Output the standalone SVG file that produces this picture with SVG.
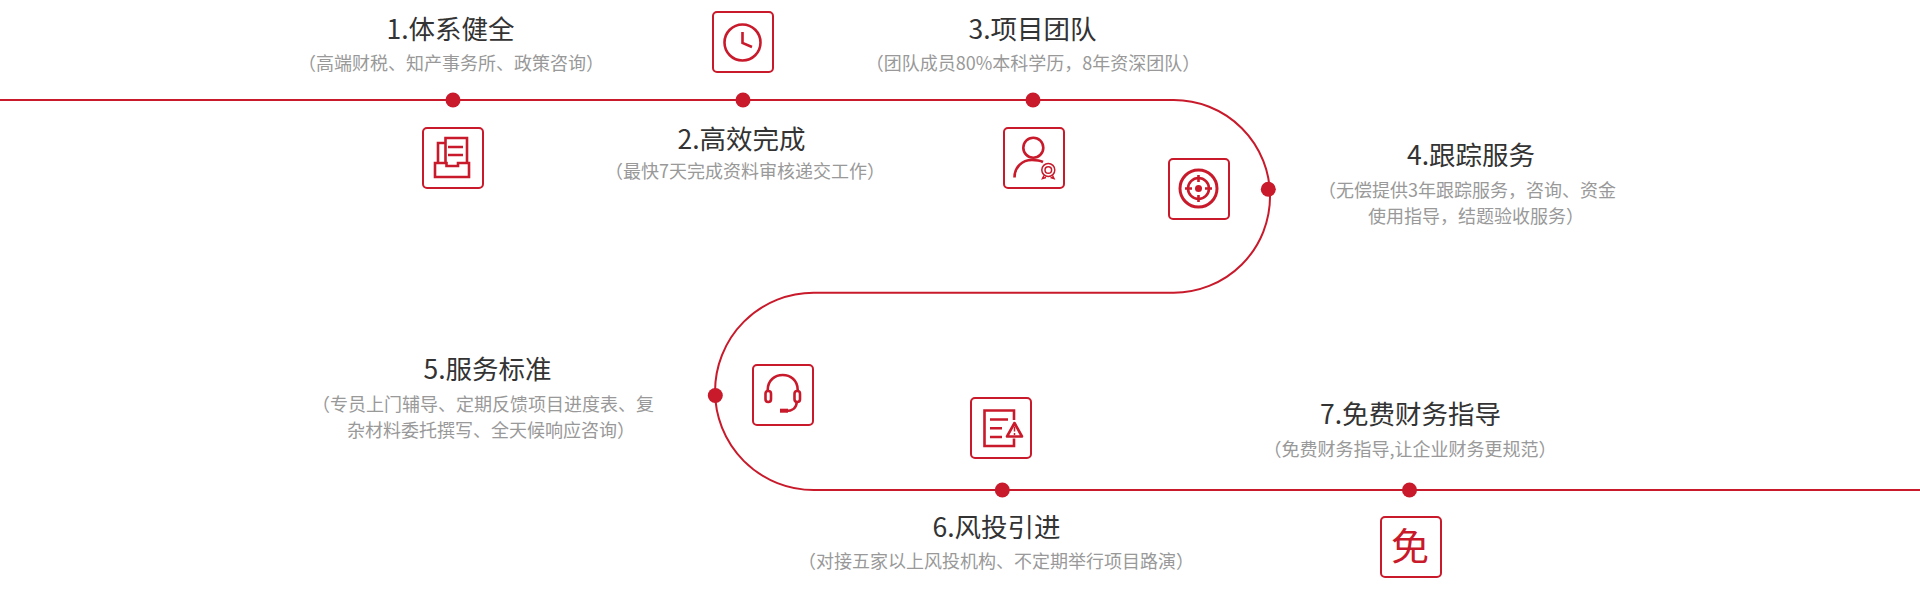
<svg xmlns="http://www.w3.org/2000/svg" width="1920" height="613" viewBox="0 0 1920 613">
<style>
.t{font-family:"Noto Sans CJK SC","Noto Sans",sans-serif;font-size:26.500px;fill:#333;text-anchor:middle}
.s{font-family:"Noto Sans CJK SC","Noto Sans",sans-serif;font-size:18px;fill:#999;text-anchor:middle}
.b{fill:#fff;stroke:#c81a2b;stroke-width:2}
.i{fill:none;stroke:#c81a2b;stroke-width:2.600}
.th{fill:none;stroke:#c81a2b;stroke-width:1.500}
.d{fill:#c81a2b}
</style>
<rect width="1920" height="613" fill="#fff"/>
<g id="connectors">
<path d="M0 100H1173.700A96.350 96.350 0 0 1 1173.700 292.700H813.700A98.650 98.650 0 0 0 813.700 490H1920" fill="none" stroke="#c81a2b" stroke-width="2"/>
<circle class="d" cx="453" cy="100" r="7.500"/><circle class="d" cx="743" cy="100" r="7.500"/><circle class="d" cx="1033" cy="100" r="7.500"/><circle class="d" cx="1268.300" cy="189.300" r="7.500"/><circle class="d" cx="715.300" cy="395.500" r="7.500"/><circle class="d" cx="1002.300" cy="490" r="7.500"/><circle class="d" cx="1409.500" cy="490" r="7.500"/>
</g>
<g id="node1">
<text class="t" x="450.500" y="39">1.体系健全</text><text class="s" x="451" y="69.500">（高端财税、知产事务所、政策咨询）</text>
<rect class="b" x="423" y="128" width="60" height="60" rx="4"/>
<path class="i" d="M445.500 163V138H467V163M445.500 143H438V163M448 147H463M448 155H463M435 177V163H446.500V166H458V163H469V177Z"/>
</g>
<g id="node2">
<text class="t" x="741.500" y="149">2.高效完成</text><text class="s" x="745" y="178">（最快7天完成资料审核递交工作）</text>
<rect class="b" x="713" y="12" width="60" height="60" rx="4"/>
<circle class="i" cx="742.500" cy="42.500" r="18"/><path class="i" d="M742.500 32V43L752 47"/>
</g>
<g id="node3">
<text class="t" x="1032.500" y="39">3.项目团队</text><text class="s" x="1033" y="69.500">（团队成员80%本科学历，8年资深团队）</text>
<rect class="b" x="1004" y="128" width="60" height="60" rx="4"/>
<circle class="i" cx="1033.300" cy="147.700" r="10"/><path class="i" d="M1014.500 177.500C1014.500 167 1022 160 1032 160C1036 160 1040 160.500 1043 162"/>
<circle class="th" cx="1048.300" cy="170" r="6.500"/><circle class="th" cx="1048.300" cy="170" r="3.300"/><path class="th" d="M1044 175.500L1042.500 178.500L1046 177.500M1052.500 175.500L1054 178.500L1050.500 177.500"/>
</g>
<g id="node4">
<text class="t" x="1471" y="165">4.跟踪服务</text><text class="s" x="1467" y="196.500">（无偿提供3年跟踪服务，咨询、资金</text><text class="s" x="1476" y="223">使用指导，结题验收服务）</text>
<rect class="b" x="1169" y="159" width="60" height="60" rx="4"/>
<circle cx="1198.500" cy="188.500" r="18.500" fill="none" stroke="#c81a2b" stroke-width="3"/><circle class="i" cx="1198.500" cy="188.500" r="10.500"/><circle class="d" cx="1198.500" cy="188.500" r="3.500"/><path class="i" d="M1198.500 175V182M1198.500 195V202M1185 188.500H1192M1205 188.500H1212"/>
</g>
<g id="node5">
<text class="t" x="487.500" y="379">5.服务标准</text><text class="s" x="483" y="411">（专员上门辅导、定期反馈项目进度表、复</text><text class="s" x="491" y="437">杂材料委托撰写、全天候响应咨询）</text>
<rect class="b" x="753" y="365" width="60" height="60" rx="4"/>
<path class="i" d="M767.700 391V390C767.700 370 797.700 370 797.700 390V391"/><rect class="i" x="765.500" y="391" width="5.500" height="11" rx="2.700"/><rect class="i" x="794.500" y="391" width="5.500" height="11" rx="2.700"/><path class="i" d="M796.700 402C796.700 408 792 411 786 411"/><rect class="d" x="780" y="408.700" width="8" height="4"/>
</g>
<g id="node6">
<text class="t" x="996.500" y="537">6.风投引进</text><text class="s" x="996" y="567.500">（对接五家以上风投机构、不定期举行项目路演）</text>
<rect class="b" x="971" y="398" width="60" height="60" rx="4"/>
<path class="i" d="M1014 420V410.500H984.500V446H1014V438.500M990 419.500H1008M990 428.300H1002M990 437H1002"/>
<path class="i" stroke-linejoin="round" d="M1014.500 423L1007 436.500H1022Z"/><path class="th" d="M1014.500 426.500V431.500M1014.500 433V435"/>
</g>
<g id="node7">
<text class="t" x="1410.500" y="424">7.免费财务指导</text><text class="s" x="1410" y="455.500">（免费财务指导,让企业财务更规范）</text>
<rect class="b" x="1381" y="517" width="60" height="60" rx="4"/>
<text x="1410" y="560" style="font-family:'Noto Sans CJK SC',sans-serif;font-size:38px;font-weight:400;fill:#c81a2b;text-anchor:middle">免</text>
</g>
</svg>
